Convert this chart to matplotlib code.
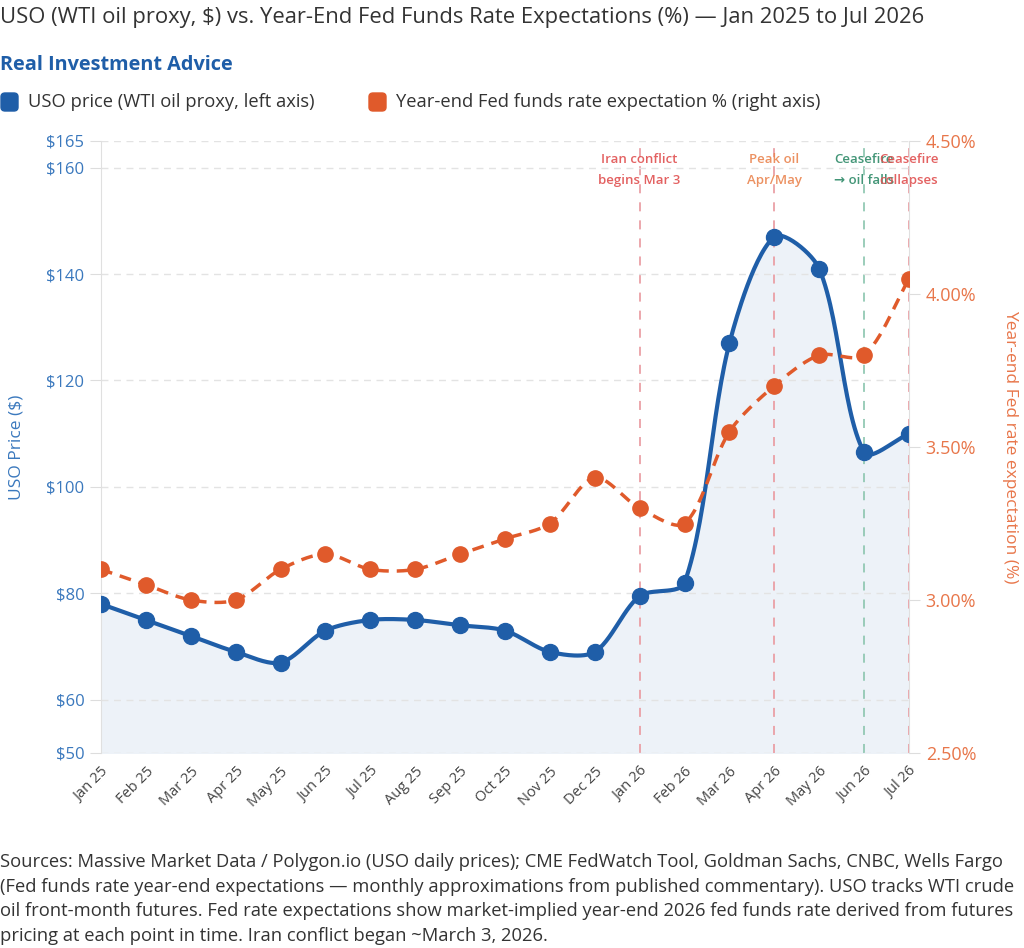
import numpy as np
import matplotlib
matplotlib.use("Agg")
import matplotlib.pyplot as plt
from matplotlib.patches import FancyBboxPatch

plt.rcParams['font.family'] = ['Open Sans', 'DejaVu Sans']

# data
months = ["Jan 25", "Feb 25", "Mar 25", "Apr 25", "May 25", "Jun 25", "Jul 25",
          "Aug 25", "Sep 25", "Oct 25", "Nov 25", "Dec 25", "Jan 26", "Feb 26",
          "Mar 26", "Apr 26", "May 26", "Jun 26", "Jul 26"]
uso_price = [78, 75, 72, 69, 67, 73, 75, 75, 74, 73, 69, 69, 79.5, 82,
             127, 147, 141, 106.5, 110]
fed_rate = [3.10, 3.05, 3.00, 3.00, 3.10, 3.15, 3.10, 3.10, 3.15, 3.20, 3.25,
            3.40, 3.30, 3.25, 3.55, 3.70, 3.80, 3.80, 4.05]
left_ticks = [50, 60, 80, 100, 120, 140, 160, 165]
right_ticks = [2.5, 3.0, 3.5, 4.0, 4.5]
events = [("Jan 26", "Iran conflict\nbegins Mar 3", "#e05050", "#eaa0a6"),
          ("Apr 26", "Peak oil\nApr/May", "#ea8550", "#eaa0a6"),
          ("Jun 26", "Ceasefire\n\u2192 oil falls", "#2e8a68", "#93c9b4"),
          ("Jul 26", "Ceasefire\ncollapses", "#e05050", "#eaa0a6")]

BLUE = "#1f5ea8"
ORANGE = "#e05a2b"


def smooth(ax, xs, ys, tension=0.3, n=30):
    # chart.js style bezier spline, computed in pixel space
    pts = ax.transData.transform(np.column_stack([xs, ys]))
    m = len(pts)
    cp_prev = pts.copy()
    cp_next = pts.copy()
    for i in range(m):
        p0 = pts[max(i - 1, 0)]
        p1 = pts[i]
        p2 = pts[min(i + 1, m - 1)]
        d01 = np.hypot(*(p1 - p0))
        d12 = np.hypot(*(p2 - p1))
        tot = d01 + d12
        s01 = d01 / tot if tot else 0
        s12 = d12 / tot if tot else 0
        cp_prev[i] = p1 - tension * s01 * (p2 - p0)
        cp_next[i] = p1 + tension * s12 * (p2 - p0)
    out = []
    t = np.linspace(0, 1, n)[:, None]
    for i in range(m - 1):
        a, b, c, d = pts[i], cp_next[i], cp_prev[i + 1], pts[i + 1]
        seg = (1 - t) ** 3 * a + 3 * (1 - t) ** 2 * t * b + 3 * (1 - t) * t ** 2 * c + t ** 3 * d
        out.append(seg if i == 0 else seg[1:])
    out = np.vstack(out)
    data = ax.transData.inverted().transform(out)
    return data[:, 0], data[:, 1]


fig = plt.figure(figsize=(10.24, 9.48), dpi=100)
ax = fig.add_axes([101 / 1024, 1 - 753 / 948, 808 / 1024, 612 / 948])
ax2 = ax.twinx()

x = np.arange(len(months))
ax.set_xlim(0, len(months) - 1)
ax.set_ylim(50, 165)
ax2.set_ylim(2.5, 4.5)

# vertical event lines
for m, label, tcol, lcol in events:
    xi = months.index(m)
    ax.axvline(xi, color=lcol, lw=1.3, ls=(0, (5, 5)), zorder=1)
    ax.text(xi, 162.7, label, color=tcol, fontsize=9.5, ha="center", va="top",
            linespacing=1.75, alpha=0.9, fontweight="semibold", zorder=2)

sx, sy = smooth(ax, x, uso_price)
ax.fill_between(sx, sy, 50, color="#edf2f8", zorder=0)
ax.plot(sx, sy, color=BLUE, lw=3, zorder=3, solid_capstyle="round")
ax.plot(x, uso_price, "o", color=BLUE, ms=11.5, zorder=4)

rx, ry = smooth(ax2, x, fed_rate)
ax2.plot(rx, ry, color=ORANGE, lw=2.5, ls=(0, (3.4, 2.3)), zorder=3)
ax2.plot(x, fed_rate, "o", color=ORANGE, ms=11, zorder=4)

# axes styling
ax.set_yticks(left_ticks)
ax.set_yticklabels([f"${v}" for v in left_ticks])
ax.grid(axis="y", color="#e3e3e3", ls=(0, (5, 4)), lw=1)
ax.set_xticks(x)
ax.set_xticklabels(months, rotation=45, ha="right", rotation_mode="anchor")
ax.tick_params(axis="x", colors="#cccccc", labelcolor="#444444", labelsize=10.5, length=0, pad=8)
ax.tick_params(axis="y", colors="#dddddd", labelcolor="#3a78bd", labelsize=12, length=8, pad=4)
ax.set_ylabel("USO Price ($)", color="#3a78bd", fontsize=12.5, va="center")
ax.yaxis.set_label_coords(-0.104, 0.5)

ax2.set_yticks(right_ticks)
ax2.set_yticklabels([f"{v:.2f}%" for v in right_ticks])
ax2.tick_params(axis="y", colors="#dddddd", labelcolor="#e8764a", labelsize=13, length=8, pad=4)
ax2.set_ylabel("Year-end Fed rate expectation (%)", color="#e8764a", fontsize=12.5,
               rotation=270, va="center")
ax2.yaxis.set_label_coords(1.125, 0.5)

for a in (ax, ax2):
    for s in ("top", "bottom"):
        a.spines[s].set_visible(False)
    a.spines["left"].set_color("#e0e0e0")
    a.spines["right"].set_color("#e0e0e0")
ax.spines["right"].set_visible(False)
ax2.spines["left"].set_visible(False)

# titles
fig.text(0.0, 1 - 17 / 948, "USO (WTI oil proxy, $) vs. Year-End Fed Funds Rate Expectations (%) \u2014 Jan 2025 to Jul 2026",
         fontsize=15.8, color="#333333", va="center", ha="left")
fig.text(0.0, 1 - 65 / 948, "Real Investment Advice", fontsize=14.3, color="#1f5ea8",
         fontweight="bold", va="center", ha="left")

# legend
for lx, col, txt in [(1, BLUE, "USO price (WTI oil proxy, left axis)"),
                     (369, ORANGE, "Year-end Fed funds rate expectation % (right axis)")]:
    fig.add_artist(FancyBboxPatch((lx / 1024, 1 - 111 / 948), 17 / 1024, 18 / 948,
                                  boxstyle="round,pad=0,rounding_size=0.004",
                                  transform=fig.transFigure, color=col))
    fig.text((lx + 27) / 1024, 1 - 102 / 948, txt, fontsize=13.2, color="#333333",
             va="center", ha="left")

footer = ("Sources: Massive Market Data / Polygon.io (USO daily prices); CME FedWatch Tool, Goldman Sachs, CNBC, Wells Fargo\n"
          "(Fed funds rate year-end expectations \u2014 monthly approximations from published commentary). USO tracks WTI crude\n"
          "oil front-month futures. Fed rate expectations show market-implied year-end 2026 fed funds rate derived from futures\n"
          "pricing at each point in time. Iran conflict began ~March 3, 2026.")
fig.text(0.0, 1 - 853 / 948, footer, fontsize=13.2, color="#333333", va="top", ha="left",
         linespacing=1.47)

fig.savefig("out.png", dpi=100)
